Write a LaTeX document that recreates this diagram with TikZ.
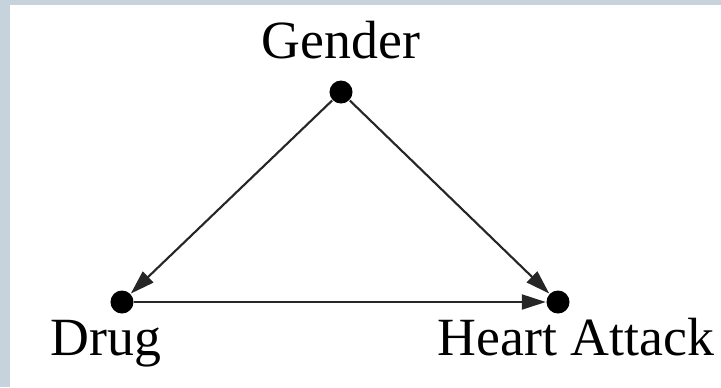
\documentclass[tikz,border=0pt]{standalone}
\usepackage{fontspec}
\setmainfont{Liberation Serif}
\usetikzlibrary{arrows.meta}

\definecolor{framegray}{HTML}{C6D3DC}

\begin{document}
\begin{tikzpicture}[x=0.01cm, y=-0.01cm,
      dot/.style={circle, fill=black, inner sep=0pt, minimum size=0.23cm},
      lbl/.style={font=\fontsize{15.3}{18}\selectfont, anchor=base, inner sep=0pt},
      link/.style={-{Triangle[length=2.4mm,width=1.5mm]}, line width=0.6pt, draw=black!85}]
  % frame
  \fill[framegray] (0,0) rectangle (721,387);
  \fill[white] (10,5) rectangle (721,387);
  \useasboundingbox (0,0) rectangle (721,387);

  % variables
  \node[dot] (gender) at (341,92) {};
  \node[dot] (drug)   at (122,302) {};
  \node[dot] (heart)  at (558,302) {};

  \node[lbl] (gender-lbl) at (341,58)  {Gender};
  \node[lbl] (drug-lbl)   at (106,355) {Drug};
  \node[lbl] (heart-lbl)  at (576,355) {Heart Attack};

  % causal links
  \draw[link] (gender) -- (drug);
  \draw[link] (gender) -- (heart);
  \draw[link] (drug) -- (heart);
\end{tikzpicture}
\end{document}
